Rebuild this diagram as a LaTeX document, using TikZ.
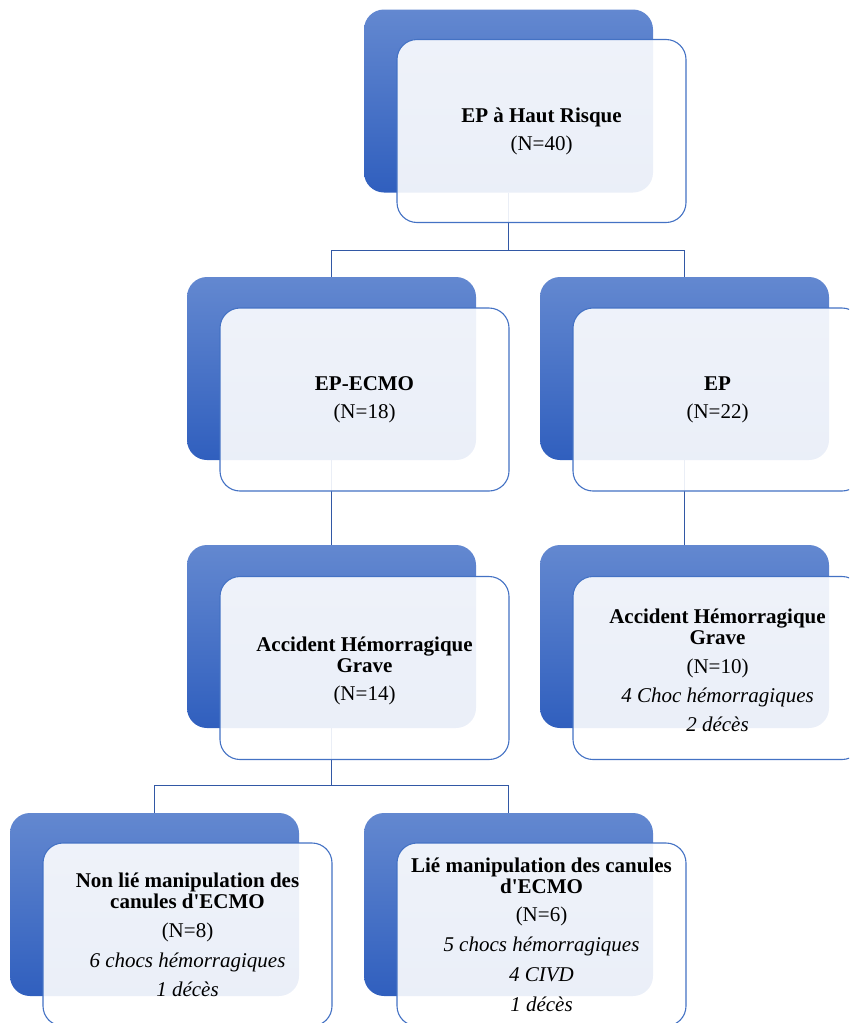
\documentclass[tikz,border=0pt]{standalone}
\usepackage{fontspec}
\setmainfont{Liberation Serif}
\usetikzlibrary{backgrounds}
\definecolor{backtop}{RGB}{99,136,208}
\definecolor{backbot}{RGB}{48,95,190}
\definecolor{frontline}{RGB}{68,114,196}
\definecolor{conn}{RGB}{50,88,165}
\tikzset{
  backbox/.style={shade, top color=backtop, bottom color=backbot, rounded corners=20pt,
    minimum width=289pt, minimum height=183pt, inner sep=0pt, draw=none},
  frontbox/.style={fill=white, fill opacity=0.9, draw=frontline, line width=1.1pt,
    rounded corners=20pt, minimum width=289pt, minimum height=183pt, inner sep=0pt},
  boxtext/.style={align=center, text=black, inner sep=0pt, font=\fontsize{21}{21}\selectfont},
  connector/.style={draw=conn, line width=1.4pt}
}
\begin{document}
\begin{tikzpicture}[x=1pt,y=-1pt]
\useasboundingbox (0,0) rectangle (849,1023);
\clip (0,0) rectangle (849,1023);
% back boxes
\node[backbox] (rb) at (508.5,101) {};
\node[backbox] (alb) at (331.5,368.5) {};
\node[backbox] (arb) at (684.5,368.5) {};
\node[backbox] (blb) at (331.5,636.5) {};
\node[backbox] (brb) at (684.5,636.5) {};
\node[backbox] (clb) at (154.5,904.5) {};
\node[backbox] (crb) at (508.5,904.5) {};
% front boxes
\node[frontbox] (rf) at (541.5,131) {};
\node[frontbox] (alf) at (364.5,399.5) {};
\node[frontbox] (arf) at (717.5,399.5) {};
\node[frontbox] (blf) at (364.5,668) {};
\node[frontbox] (brf) at (717.5,668) {};
\node[frontbox] (clf) at (187.5,934.5) {};
\node[frontbox] (crf) at (541.5,934.5) {};
% texts
\node[boxtext] (rt) at (rf) {\textbf{EP à Haut Risque}\\[7pt](N=40)};
\node[boxtext] (alt) at (alf) {\textbf{EP-ECMO}\\[7pt](N=18)};
\node[boxtext] (art) at (arf) {\textbf{EP}\\[7pt](N=22)};
\node[boxtext] (blt) at ([yshift=-3pt]blf.center) {\textbf{Accident Hémorragique}\\\textbf{Grave}\\[7pt](N=14)};
\node[boxtext] (brt) at ([yshift=-2pt]brf.center) {\textbf{Accident Hémorragique}\\\textbf{Grave}\\[8pt](N=10)\\[8pt]\textit{4 Choc hémorragiques}\\[8pt]\textit{2 décès}};
\node[boxtext] (clt) at (clf) {\textbf{Non lié manipulation des}\\\textbf{canules d\textquotesingle ECMO}\\[8pt](N=8)\\[9pt]\textit{6 chocs hémorragiques}\\[8pt]\textit{1 décès}};
\node[boxtext] (crt) at (crf) {\textbf{Lié manipulation des canules}\\\textbf{d\textquotesingle ECMO}\\[7pt](N=6)\\[9pt]\textit{5 chocs hémorragiques}\\[9pt]\textit{4 CIVD}\\[9pt]\textit{1 décès}};
% connectors
\begin{pgfonlayer}{background}
\draw[connector] (rb.south) -- ++(0,58) -| (alb.north);
\draw[connector] (rb.south) -- ++(0,58) -| (arb.north);
\draw[connector] (alb.south) -- (blb.north);
\draw[connector] (arb.south) -- (brb.north);
\draw[connector] (blb.south) -- ++(0,57) -| (clb.north);
\draw[connector] (blb.south) -- ++(0,57) -| (crb.north);
\end{pgfonlayer}
\end{tikzpicture}
\end{document}
